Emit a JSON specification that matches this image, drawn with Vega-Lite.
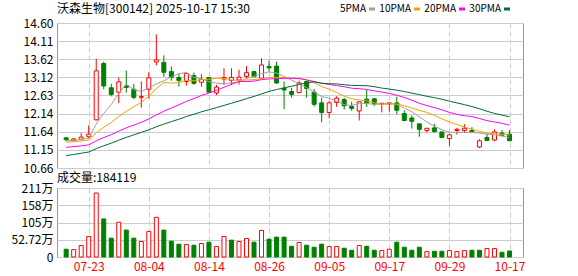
{
  "$schema": "https://vega.github.io/schema/vega-lite/v6.json",
  "autosize": {"type": "pad"},
  "padding": {"left": 10, "top": 2, "right": 0, "bottom": 0},
  "background": "#ffffff",
  "bounds": "flush",
  "spacing": 20,
  "config": {
    "view": {"stroke": "#999999", "strokeWidth": 1},
    "font": "Noto Sans CJK SC",
    "axis": {"labelFont": "Noto Sans CJK SC", "labelFontSize": 12, "labelColor": "#000000", "ticks": false, "domain": false, "gridColor": "#cccccc", "gridWidth": 1, "labelPadding": 4, "labelFlush": false, "labelOverlap": "greedy", "labelSeparation": -30}
  },
  "datasets": {
    "k": [
      {"d":"07-18","i":0,"o":11.48,"h":11.48,"l":11.39,"c":11.43,"v":237000,"vu":false,"5PMA":11.400,"10PMA":11.364,"20PMA":11.222,"30PMA":10.998},
      {"d":"07-21","i":1,"o":11.41,"h":11.48,"l":11.39,"c":11.45,"v":226000,"vu":true,"5PMA":11.410,"10PMA":11.376,"20PMA":11.241,"30PMA":11.028},
      {"d":"07-22","i":2,"o":11.44,"h":11.61,"l":11.41,"c":11.50,"v":350000,"vu":true,"5PMA":11.432,"10PMA":11.393,"20PMA":11.262,"30PMA":11.060},
      {"d":"07-23","i":3,"o":11.51,"h":11.82,"l":11.46,"c":11.58,"v":628000,"vu":true,"5PMA":11.470,"10PMA":11.418,"20PMA":11.287,"30PMA":11.094},
      {"d":"07-24","i":4,"o":11.97,"h":13.63,"l":11.95,"c":13.30,"v":1956000,"vu":true,"5PMA":11.852,"10PMA":11.615,"20PMA":11.398,"30PMA":11.186},
      {"d":"07-25","i":5,"o":13.50,"h":13.55,"l":12.80,"c":12.89,"v":1163000,"vu":false,"5PMA":12.144,"10PMA":11.771,"20PMA":11.488,"30PMA":11.264},
      {"d":"07-28","i":6,"o":12.84,"h":12.95,"l":12.61,"c":12.66,"v":576000,"vu":false,"5PMA":12.386,"10PMA":11.898,"20PMA":11.567,"30PMA":11.334},
      {"d":"07-29","i":7,"o":12.72,"h":13.12,"l":12.42,"c":13.00,"v":1060000,"vu":true,"5PMA":12.686,"10PMA":12.059,"20PMA":11.663,"30PMA":11.416},
      {"d":"07-30","i":8,"o":12.89,"h":13.31,"l":12.71,"c":12.85,"v":823000,"vu":false,"5PMA":12.940,"10PMA":12.205,"20PMA":11.752,"30PMA":11.492},
      {"d":"07-31","i":9,"o":12.80,"h":12.95,"l":12.53,"c":12.58,"v":576000,"vu":false,"5PMA":12.796,"10PMA":12.324,"20PMA":11.827,"30PMA":11.560},
      {"d":"08-01","i":10,"o":12.58,"h":13.01,"l":12.30,"c":12.60,"v":473000,"vu":true,"5PMA":12.738,"10PMA":12.441,"20PMA":11.903,"30PMA":11.628},
      {"d":"08-04","i":11,"o":12.80,"h":13.26,"l":12.55,"c":13.11,"v":782000,"vu":true,"5PMA":12.828,"10PMA":12.607,"20PMA":11.992,"30PMA":11.696},
      {"d":"08-05","i":12,"o":13.54,"h":14.29,"l":13.45,"c":13.60,"v":1214000,"vu":true,"5PMA":12.948,"10PMA":12.817,"20PMA":12.105,"30PMA":11.780},
      {"d":"08-06","i":13,"o":13.53,"h":13.72,"l":13.14,"c":13.26,"v":823000,"vu":false,"5PMA":13.030,"10PMA":12.985,"20PMA":12.202,"30PMA":11.853},
      {"d":"08-07","i":14,"o":13.28,"h":13.42,"l":13.03,"c":13.12,"v":484000,"vu":false,"5PMA":13.138,"10PMA":12.967,"20PMA":12.291,"30PMA":11.921},
      {"d":"08-08","i":15,"o":13.12,"h":13.21,"l":12.87,"c":13.04,"v":391000,"vu":false,"5PMA":13.226,"10PMA":12.982,"20PMA":12.377,"30PMA":11.986},
      {"d":"08-11","i":16,"o":13.01,"h":13.25,"l":12.90,"c":13.23,"v":381000,"vu":true,"5PMA":13.250,"10PMA":13.039,"20PMA":12.469,"30PMA":12.058},
      {"d":"08-12","i":17,"o":13.17,"h":13.25,"l":12.92,"c":12.96,"v":360000,"vu":false,"5PMA":13.122,"10PMA":13.035,"20PMA":12.547,"30PMA":12.120},
      {"d":"08-13","i":18,"o":12.99,"h":13.21,"l":12.87,"c":13.07,"v":412000,"vu":true,"5PMA":13.084,"10PMA":13.057,"20PMA":12.631,"30PMA":12.187},
      {"d":"08-14","i":19,"o":13.12,"h":13.12,"l":12.71,"c":12.72,"v":453000,"vu":false,"5PMA":13.004,"10PMA":13.071,"20PMA":12.698,"30PMA":12.241},
      {"d":"08-15","i":20,"o":12.70,"h":12.92,"l":12.64,"c":12.86,"v":319000,"vu":true,"5PMA":12.968,"10PMA":13.097,"20PMA":12.769,"30PMA":12.301},
      {"d":"08-18","i":21,"o":13.08,"h":13.37,"l":12.92,"c":13.12,"v":628000,"vu":true,"5PMA":12.946,"10PMA":13.098,"20PMA":12.853,"30PMA":12.360},
      {"d":"08-19","i":22,"o":13.04,"h":13.37,"l":12.92,"c":13.12,"v":515000,"vu":false,"5PMA":12.978,"10PMA":13.050,"20PMA":12.934,"30PMA":12.420},
      {"d":"08-20","i":23,"o":13.05,"h":13.33,"l":12.93,"c":13.13,"v":473000,"vu":true,"5PMA":12.990,"10PMA":13.037,"20PMA":13.011,"30PMA":12.480},
      {"d":"08-21","i":24,"o":13.15,"h":13.43,"l":13.08,"c":13.25,"v":566000,"vu":true,"5PMA":13.096,"10PMA":13.050,"20PMA":13.009,"30PMA":12.544},
      {"d":"08-22","i":25,"o":13.28,"h":13.28,"l":13.13,"c":13.14,"v":453000,"vu":false,"5PMA":13.152,"10PMA":13.060,"20PMA":13.021,"30PMA":12.604},
      {"d":"08-25","i":26,"o":13.10,"h":13.64,"l":13.08,"c":13.46,"v":813000,"vu":true,"5PMA":13.220,"10PMA":13.083,"20PMA":13.061,"30PMA":12.673},
      {"d":"08-26","i":27,"o":13.42,"h":13.58,"l":13.28,"c":13.38,"v":545000,"vu":false,"5PMA":13.272,"10PMA":13.125,"20PMA":13.080,"30PMA":12.740},
      {"d":"08-27","i":28,"o":13.43,"h":13.55,"l":12.95,"c":12.97,"v":607000,"vu":false,"5PMA":13.240,"10PMA":13.115,"20PMA":13.086,"30PMA":12.792},
      {"d":"08-28","i":29,"o":12.82,"h":13.01,"l":12.26,"c":12.78,"v":607000,"vu":false,"5PMA":13.146,"10PMA":13.121,"20PMA":13.096,"30PMA":12.839},
      {"d":"08-29","i":30,"o":12.74,"h":12.84,"l":12.57,"c":12.66,"v":329000,"vu":false,"5PMA":13.050,"10PMA":13.101,"20PMA":13.099,"30PMA":12.880},
      {"d":"09-01","i":31,"o":12.71,"h":13.03,"l":12.69,"c":12.97,"v":443000,"vu":true,"5PMA":12.952,"10PMA":13.086,"20PMA":13.092,"30PMA":12.930},
      {"d":"09-02","i":32,"o":13.01,"h":13.03,"l":12.57,"c":12.82,"v":360000,"vu":false,"5PMA":12.840,"10PMA":13.056,"20PMA":13.053,"30PMA":12.974},
      {"d":"09-03","i":33,"o":12.72,"h":12.81,"l":12.33,"c":12.39,"v":298000,"vu":false,"5PMA":12.724,"10PMA":12.982,"20PMA":13.010,"30PMA":13.001},
      {"d":"09-04","i":34,"o":12.43,"h":12.57,"l":11.90,"c":12.17,"v":391000,"vu":false,"5PMA":12.602,"10PMA":12.874,"20PMA":12.962,"30PMA":12.964},
      {"d":"09-05","i":35,"o":12.17,"h":12.48,"l":12.01,"c":12.43,"v":319000,"vu":true,"5PMA":12.556,"10PMA":12.803,"20PMA":12.932,"30PMA":12.948},
      {"d":"09-08","i":36,"o":12.44,"h":12.61,"l":12.32,"c":12.56,"v":319000,"vu":true,"5PMA":12.474,"10PMA":12.713,"20PMA":12.898,"30PMA":12.945},
      {"d":"09-09","i":37,"o":12.52,"h":12.57,"l":12.25,"c":12.35,"v":268000,"vu":false,"5PMA":12.380,"10PMA":12.610,"20PMA":12.868,"30PMA":12.923},
      {"d":"09-10","i":38,"o":12.33,"h":12.46,"l":12.21,"c":12.28,"v":206000,"vu":false,"5PMA":12.358,"10PMA":12.541,"20PMA":12.828,"30PMA":12.904},
      {"d":"09-11","i":39,"o":12.21,"h":12.46,"l":11.95,"c":12.46,"v":350000,"vu":true,"5PMA":12.416,"10PMA":12.509,"20PMA":12.815,"30PMA":12.900},
      {"d":"09-12","i":40,"o":12.53,"h":12.78,"l":12.32,"c":12.43,"v":329000,"vu":false,"5PMA":12.416,"10PMA":12.486,"20PMA":12.794,"30PMA":12.895},
      {"d":"09-15","i":41,"o":12.54,"h":12.56,"l":12.34,"c":12.41,"v":206000,"vu":false,"5PMA":12.386,"10PMA":12.430,"20PMA":12.758,"30PMA":12.871},
      {"d":"09-16","i":42,"o":12.40,"h":12.42,"l":12.17,"c":12.42,"v":196000,"vu":true,"5PMA":12.400,"10PMA":12.390,"20PMA":12.723,"30PMA":12.832},
      {"d":"09-17","i":43,"o":12.40,"h":12.44,"l":12.19,"c":12.43,"v":237000,"vu":true,"5PMA":12.430,"10PMA":12.394,"20PMA":12.688,"30PMA":12.804},
      {"d":"09-18","i":44,"o":12.43,"h":12.60,"l":12.12,"c":12.23,"v":453000,"vu":false,"5PMA":12.384,"10PMA":12.400,"20PMA":12.637,"30PMA":12.775},
      {"d":"09-19","i":45,"o":12.14,"h":12.23,"l":11.93,"c":11.95,"v":298000,"vu":false,"5PMA":12.288,"10PMA":12.352,"20PMA":12.578,"30PMA":12.738},
      {"d":"09-22","i":46,"o":12.02,"h":12.09,"l":11.73,"c":11.93,"v":206000,"vu":false,"5PMA":12.192,"10PMA":12.289,"20PMA":12.501,"30PMA":12.695},
      {"d":"09-23","i":47,"o":11.86,"h":11.86,"l":11.51,"c":11.71,"v":298000,"vu":false,"5PMA":12.050,"10PMA":12.225,"20PMA":12.418,"30PMA":12.653},
      {"d":"09-24","i":48,"o":11.68,"h":11.74,"l":11.62,"c":11.74,"v":165000,"vu":true,"5PMA":11.912,"10PMA":12.171,"20PMA":12.356,"30PMA":12.609},
      {"d":"09-25","i":49,"o":11.75,"h":11.86,"l":11.62,"c":11.65,"v":175000,"vu":false,"5PMA":11.796,"10PMA":12.090,"20PMA":12.300,"30PMA":12.573},
      {"d":"09-26","i":50,"o":11.64,"h":11.64,"l":11.49,"c":11.49,"v":175000,"vu":false,"5PMA":11.704,"10PMA":11.996,"20PMA":12.241,"30PMA":12.528},
      {"d":"09-29","i":51,"o":11.46,"h":11.60,"l":11.26,"c":11.56,"v":196000,"vu":true,"5PMA":11.630,"10PMA":11.911,"20PMA":12.171,"30PMA":12.476},
      {"d":"09-30","i":52,"o":11.68,"h":11.75,"l":11.57,"c":11.71,"v":165000,"vu":true,"5PMA":11.630,"10PMA":11.840,"20PMA":12.115,"30PMA":12.429},
      {"d":"10-09","i":53,"o":11.68,"h":11.85,"l":11.61,"c":11.74,"v":196000,"vu":true,"5PMA":11.630,"10PMA":11.771,"20PMA":12.083,"30PMA":12.382},
      {"d":"10-10","i":54,"o":11.68,"h":11.77,"l":11.62,"c":11.64,"v":206000,"vu":false,"5PMA":11.628,"10PMA":11.712,"20PMA":12.056,"30PMA":12.329},
      {"d":"10-13","i":55,"o":11.23,"h":11.44,"l":11.20,"c":11.40,"v":206000,"vu":false,"5PMA":11.610,"10PMA":11.657,"20PMA":12.005,"30PMA":12.271},
      {"d":"10-14","i":56,"o":11.49,"h":11.60,"l":11.41,"c":11.41,"v":257000,"vu":true,"5PMA":11.580,"10PMA":11.605,"20PMA":11.947,"30PMA":12.202},
      {"d":"10-15","i":57,"o":11.42,"h":11.71,"l":11.39,"c":11.64,"v":257000,"vu":true,"5PMA":11.566,"10PMA":11.598,"20PMA":11.912,"30PMA":12.144},
      {"d":"10-16","i":58,"o":11.61,"h":11.69,"l":11.54,"c":11.55,"v":144000,"vu":false,"5PMA":11.528,"10PMA":11.579,"20PMA":11.875,"30PMA":12.097},
      {"d":"10-17","i":59,"o":11.58,"h":11.69,"l":11.40,"c":11.40,"v":184119,"vu":false,"5PMA":11.480,"10PMA":11.554,"20PMA":11.822,"30PMA":12.051}
    ]
  },
  "vconcat": [
    {
      "width": 466,
      "height": 145,
      "title": {"text": "沃森生物[300142] 2025-10-17 15:30", "anchor": "start", "frame": "group", "offset": 1, "fontSize": 12, "fontWeight": "normal", "color": "#000000", "font": "Noto Sans CJK SC"},
      "data": {"name": "k"},
      "encoding": {
        "x": {"field": "i", "type": "quantitative", "scale": {"domain": [-0.555, 60.13], "nice": false, "zero": false},
              "axis": {"values": [3, 11, 19, 27, 35, 43, 51, 59], "labels": false, "title": null, "grid": true, "gridDash": [5, 3], "tickCount": 20}}
      },
      "layer": [
        {
          "mark": {"type": "rule", "strokeWidth": 1},
          "encoding": {
            "y": {"field": "l", "type": "quantitative", "scale": {"domain": [10.66, 14.6], "nice": false, "zero": false},
                  "axis": {"values": [10.66, 11.15, 11.64, 12.14, 12.63, 13.12, 13.62, 14.11, 14.6], "tickCount": 20, "format": ".2f", "title": null, "grid": true,
                           "labelFlush": false, "labelOverlap": "greedy", "labelSeparation": -30, "labelBaseline": "middle"}},
            "y2": {"field": "h"},
            "color": {"condition": {"test": "datum.c >= datum.o", "value": "#ff0000"}, "value": "#008000"}
          }
        },
        {
          "mark": {"type": "bar", "strokeWidth": 1, "size": 4},
          "encoding": {
            "y": {"field": "o", "type": "quantitative",
                  "axis": {"values": [10.66, 11.15, 11.64, 12.14, 12.63, 13.12, 13.62, 14.11, 14.6], "tickCount": 20, "format": ".2f", "title": null, "grid": true,
                           "labelFlush": false, "labelOverlap": "greedy", "labelSeparation": -30, "labelBaseline": "middle"}},
            "y2": {"field": "c"},
            "fill": {"condition": {"test": "datum.c >= datum.o", "value": "#ffffff"}, "value": "#008000"},
            "stroke": {"condition": {"test": "datum.c >= datum.o", "value": "#ff0000"}, "value": "#008000"}
          }
        },
        {
          "transform": [{"fold": ["5PMA", "10PMA", "20PMA", "30PMA"], "as": ["ma", "val"]}],
          "mark": {"type": "line", "strokeWidth": 1},
          "encoding": {
            "y": {"field": "val", "type": "quantitative",
                  "axis": {"values": [10.66, 11.15, 11.64, 12.14, 12.63, 13.12, 13.62, 14.11, 14.6], "tickCount": 20, "format": ".2f", "title": null, "grid": true,
                           "labelFlush": false, "labelOverlap": "greedy", "labelSeparation": -30, "labelBaseline": "middle"}},
            "color": {"field": "ma", "type": "nominal",
                      "scale": {"domain": ["5PMA", "10PMA", "20PMA", "30PMA"], "range": ["#a0a0a0", "#f5a200", "#ff00ff", "#006b38"]},
                      "legend": {"orient": "none", "legendX": 310, "legendY": -19, "direction": "horizontal", "title": null,
                                 "symbolType": "stroke", "symbolStrokeWidth": 3, "symbolSize": 36,
                                 "labelFont": "Noto Sans CJK SC", "labelFontSize": 10, "labelColor": "#000000",
                                 "labelOffset": -11, "labelAlign": "right", "columnPadding": -2}}
          }
        }
      ]
    },
    {
      "width": 466,
      "height": 69,
      "title": {"text": "成交量:184119", "anchor": "start", "frame": "group", "offset": -3, "fontSize": 12, "fontWeight": "normal", "color": "#000000", "font": "Noto Sans CJK SC"},
      "data": {"name": "k"},
      "mark": {"type": "bar", "strokeWidth": 1, "size": 4},
      "encoding": {
        "x": {"field": "i", "type": "quantitative", "scale": {"domain": [-0.555, 60.13], "nice": false, "zero": false},
              "axis": {"values": [3, 11, 19, 27, 35, 43, 51, 59], "tickCount": 20, "title": null, "grid": true, "gridDash": [5, 3], "labelColor": "#ff0000",
                       "labelExpr": "['07-23','08-04','08-14','08-26','09-05','09-17','09-29','10-17'][round((datum.value-3)/8)]"}},
        "y": {"field": "v", "type": "quantitative", "scale": {"domain": [0, 2108800], "nice": false, "zero": true},
              "axis": {"values": [0, 527200, 1054400, 1581600, 2108800], "tickCount": 20, "title": null, "grid": true,
                       "labelExpr": "datum.value == 0 ? '0' : datum.value < 600000 ? '52.72万' : datum.value < 1100000 ? '105万' : datum.value < 1600000 ? '158万' : '211万'"}},
        "y2": {"datum": 0},
        "fill": {"condition": {"test": "datum.vu", "value": "#ffffff"}, "value": "#008000"},
        "stroke": {"condition": {"test": "datum.vu", "value": "#ff0000"}, "value": "#008000"}
      }
    }
  ]
}
